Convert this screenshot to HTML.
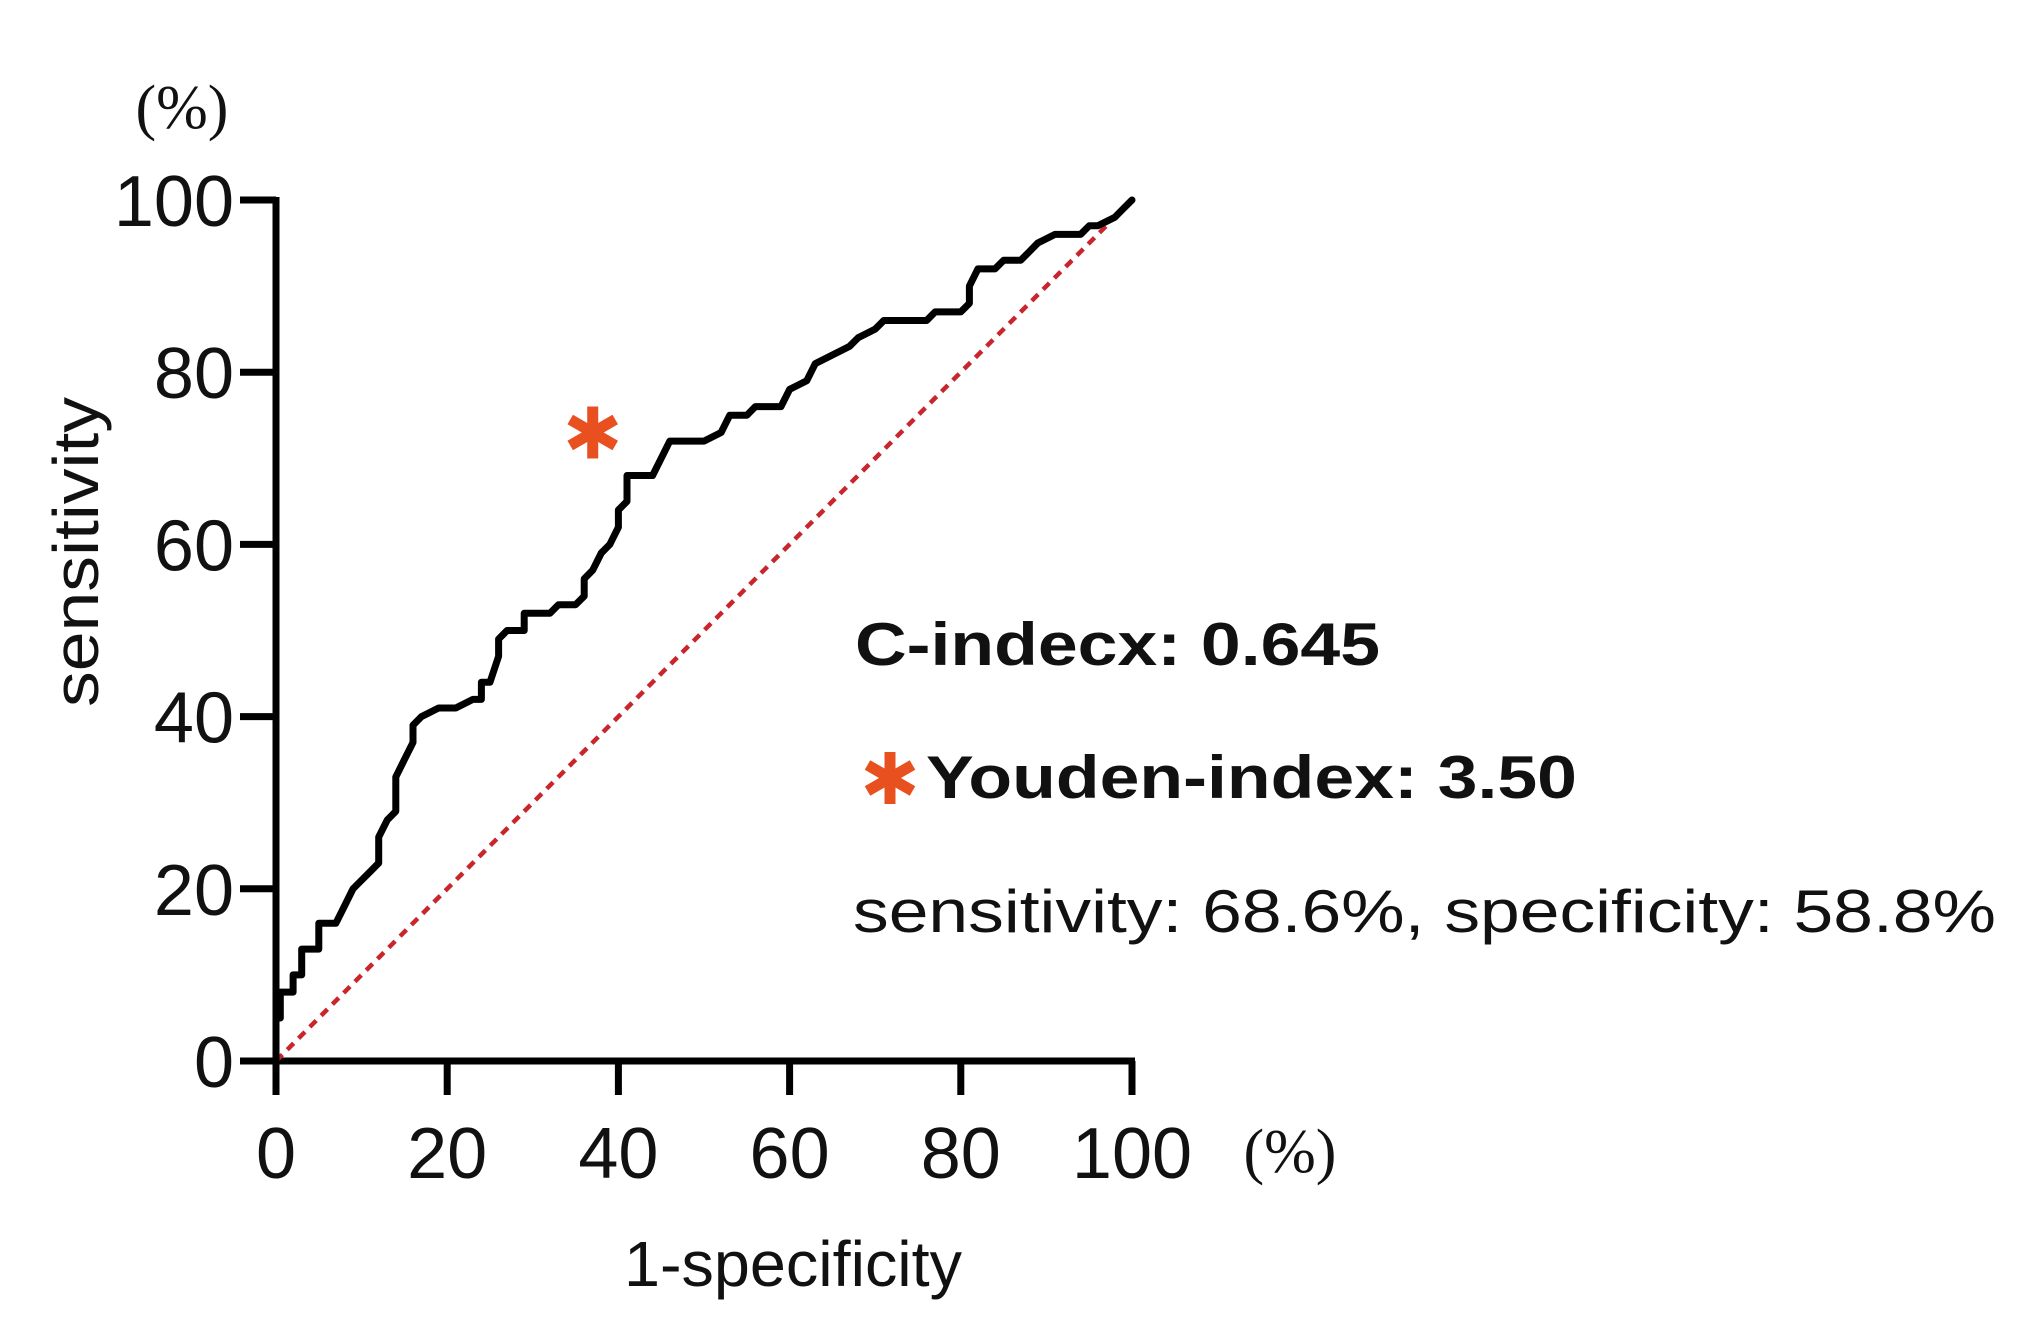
<!DOCTYPE html>
<html><head><meta charset="utf-8"><style>
html,body{margin:0;padding:0;background:#fff;}
svg{display:block;}
text{font-family:"Liberation Sans",sans-serif;fill:#111;}
</style></head><body>
<svg id="chart" width="2028" height="1324" viewBox="0 0 2028 1324" xmlns="http://www.w3.org/2000/svg">
<rect width="2028" height="1324" fill="#fff"/>
<g id="axes"></g>
<g id="marks"></g>
<text x="182" y="128" text-anchor="middle" style="font-family:'Liberation Serif',serif;font-size:62px">(%)</text>
<text x="1290" y="1172" text-anchor="middle" style="font-family:'Liberation Serif',serif;font-size:62px">(%)</text>
<text x="793" y="1286" text-anchor="middle" font-size="64" textLength="338" lengthAdjust="spacingAndGlyphs">1-specificity</text>
<text transform="translate(98,552) rotate(-90)" text-anchor="middle" font-size="64" textLength="310" lengthAdjust="spacingAndGlyphs">sensitivity</text>
<text x="855" y="665" font-size="60" font-weight="bold" textLength="525" lengthAdjust="spacingAndGlyphs">C-indecx: 0.645</text>
<g transform="translate(890,778)" stroke="#e8501f" stroke-width="11" stroke-linecap="butt">
<line x1="0" y1="-26" x2="0" y2="26"/><line x1="-22.5" y1="-13" x2="22.5" y2="13"/><line x1="-22.5" y1="13" x2="22.5" y2="-13"/>
</g>
<text x="926" y="798" font-size="60" font-weight="bold" textLength="651" lengthAdjust="spacingAndGlyphs">Youden-index: 3.50</text>
<text x="853" y="932" font-size="60" textLength="1143" lengthAdjust="spacingAndGlyphs">sensitivity: 68.6%, specificity: 58.8%</text>
</svg>
<script>
const xTicks = [0,20,40,60,80,100];
const yTicks = [0,20,40,60,80,100];
const rocFpr = [0,0,0.5,0.5,2,2,3,3,5,5,7,8,9,10,11,12,12,13,14,14,15,16,16,17,19,21,23,24,24,25,26,26,27,29,29,32,33,35,36,36,37,38,39,40,40,41,41,44,45,46,50,52,53,55,56,59,60,62,63,65,67,68,70,71,76,77,80,81,81,82,84,85,87,88,89,91,94,95,96,98,99,100];
const rocTpr = [0,5,5,8,8,10,10,13,13,16,16,18,20,21,22,23,26,28,29,33,35,37,39,40,41,41,42,42,44,44,47,49,50,50,52,52,53,53,54,56,57,59,60,62,64,65,68,68,70,72,72,73,75,75,76,76,78,79,81,82,83,84,85,86,86,87,87,88,90,92,92,93,93,94,95,96,96,97,97,98,99,100];
const youdenPoint = [37, 73];
const diagEnd = [97, 97];

const NS = "http://www.w3.org/2000/svg";
const X0 = 276, X1 = 1132, Y0 = 1061, Y1 = 200;
const sx = v => X0 + (X1 - X0) * v / 100;
const sy = v => Y0 - (Y0 - Y1) * v / 100;
function mk(tag, attrs, parent) {
  const e = document.createElementNS(NS, tag);
  for (const k in attrs) e.setAttribute(k, attrs[k]);
  parent.appendChild(e);
  return e;
}
const axes = document.getElementById('axes');
const marks = document.getElementById('marks');

let el = mk('line', {x1: X0, y1: Y0 + 3, x2: X0, y2: Y1 - 3, stroke: '#000', 'stroke-width': 7}, axes);


el = mk('line', {x1: X0 - 3, y1: Y0, x2: X1 + 3, y2: Y0, stroke: '#000', 'stroke-width': 7}, axes);



xTicks.forEach(t => {
  let tk = mk('line', {x1: sx(t), y1: Y0, x2: sx(t), y2: Y0 + 34, stroke: '#000', 'stroke-width': 7}, axes);
  
  
  let tx = mk('text', {x: sx(t), y: 1178, 'text-anchor': 'middle', 'font-size': 72}, axes);
  tx.textContent = t;
  
  
});
yTicks.forEach(t => {
  let tk = mk('line', {x1: X0 - 36, y1: sy(t), x2: X0, y2: sy(t), stroke: '#000', 'stroke-width': 7}, axes);
  
  
  let tx = mk('text', {x: 234, y: sy(t) + 26, 'text-anchor': 'end', 'font-size': 72}, axes);
  tx.textContent = t;
  
  
});

el = mk('line', {x1: sx(0), y1: sy(0), x2: sx(diagEnd[0]), y2: sy(diagEnd[1]), stroke: '#c8262c', 'stroke-width': 4.5, 'stroke-dasharray': '9 7'}, marks);



const pts = rocFpr.map((f, i) => sx(f).toFixed(1) + ',' + sy(rocTpr[i]).toFixed(1)).join(' ');
el = mk('polyline', {points: pts, fill: 'none', stroke: '#000', 'stroke-width': 7, 'stroke-linejoin': 'round', 'stroke-linecap': 'round'}, marks);



const star = mk('g', {transform: 'translate(' + sx(youdenPoint[0]) + ',' + sy(youdenPoint[1]) + ')', stroke: '#e8501f', 'stroke-width': 11}, marks);


mk('line', {x1: 0, y1: -26, x2: 0, y2: 26}, star);
mk('line', {x1: -22.5, y1: -13, x2: 22.5, y2: 13}, star);
mk('line', {x1: -22.5, y1: 13, x2: 22.5, y2: -13}, star);
</script>
</body></html>
